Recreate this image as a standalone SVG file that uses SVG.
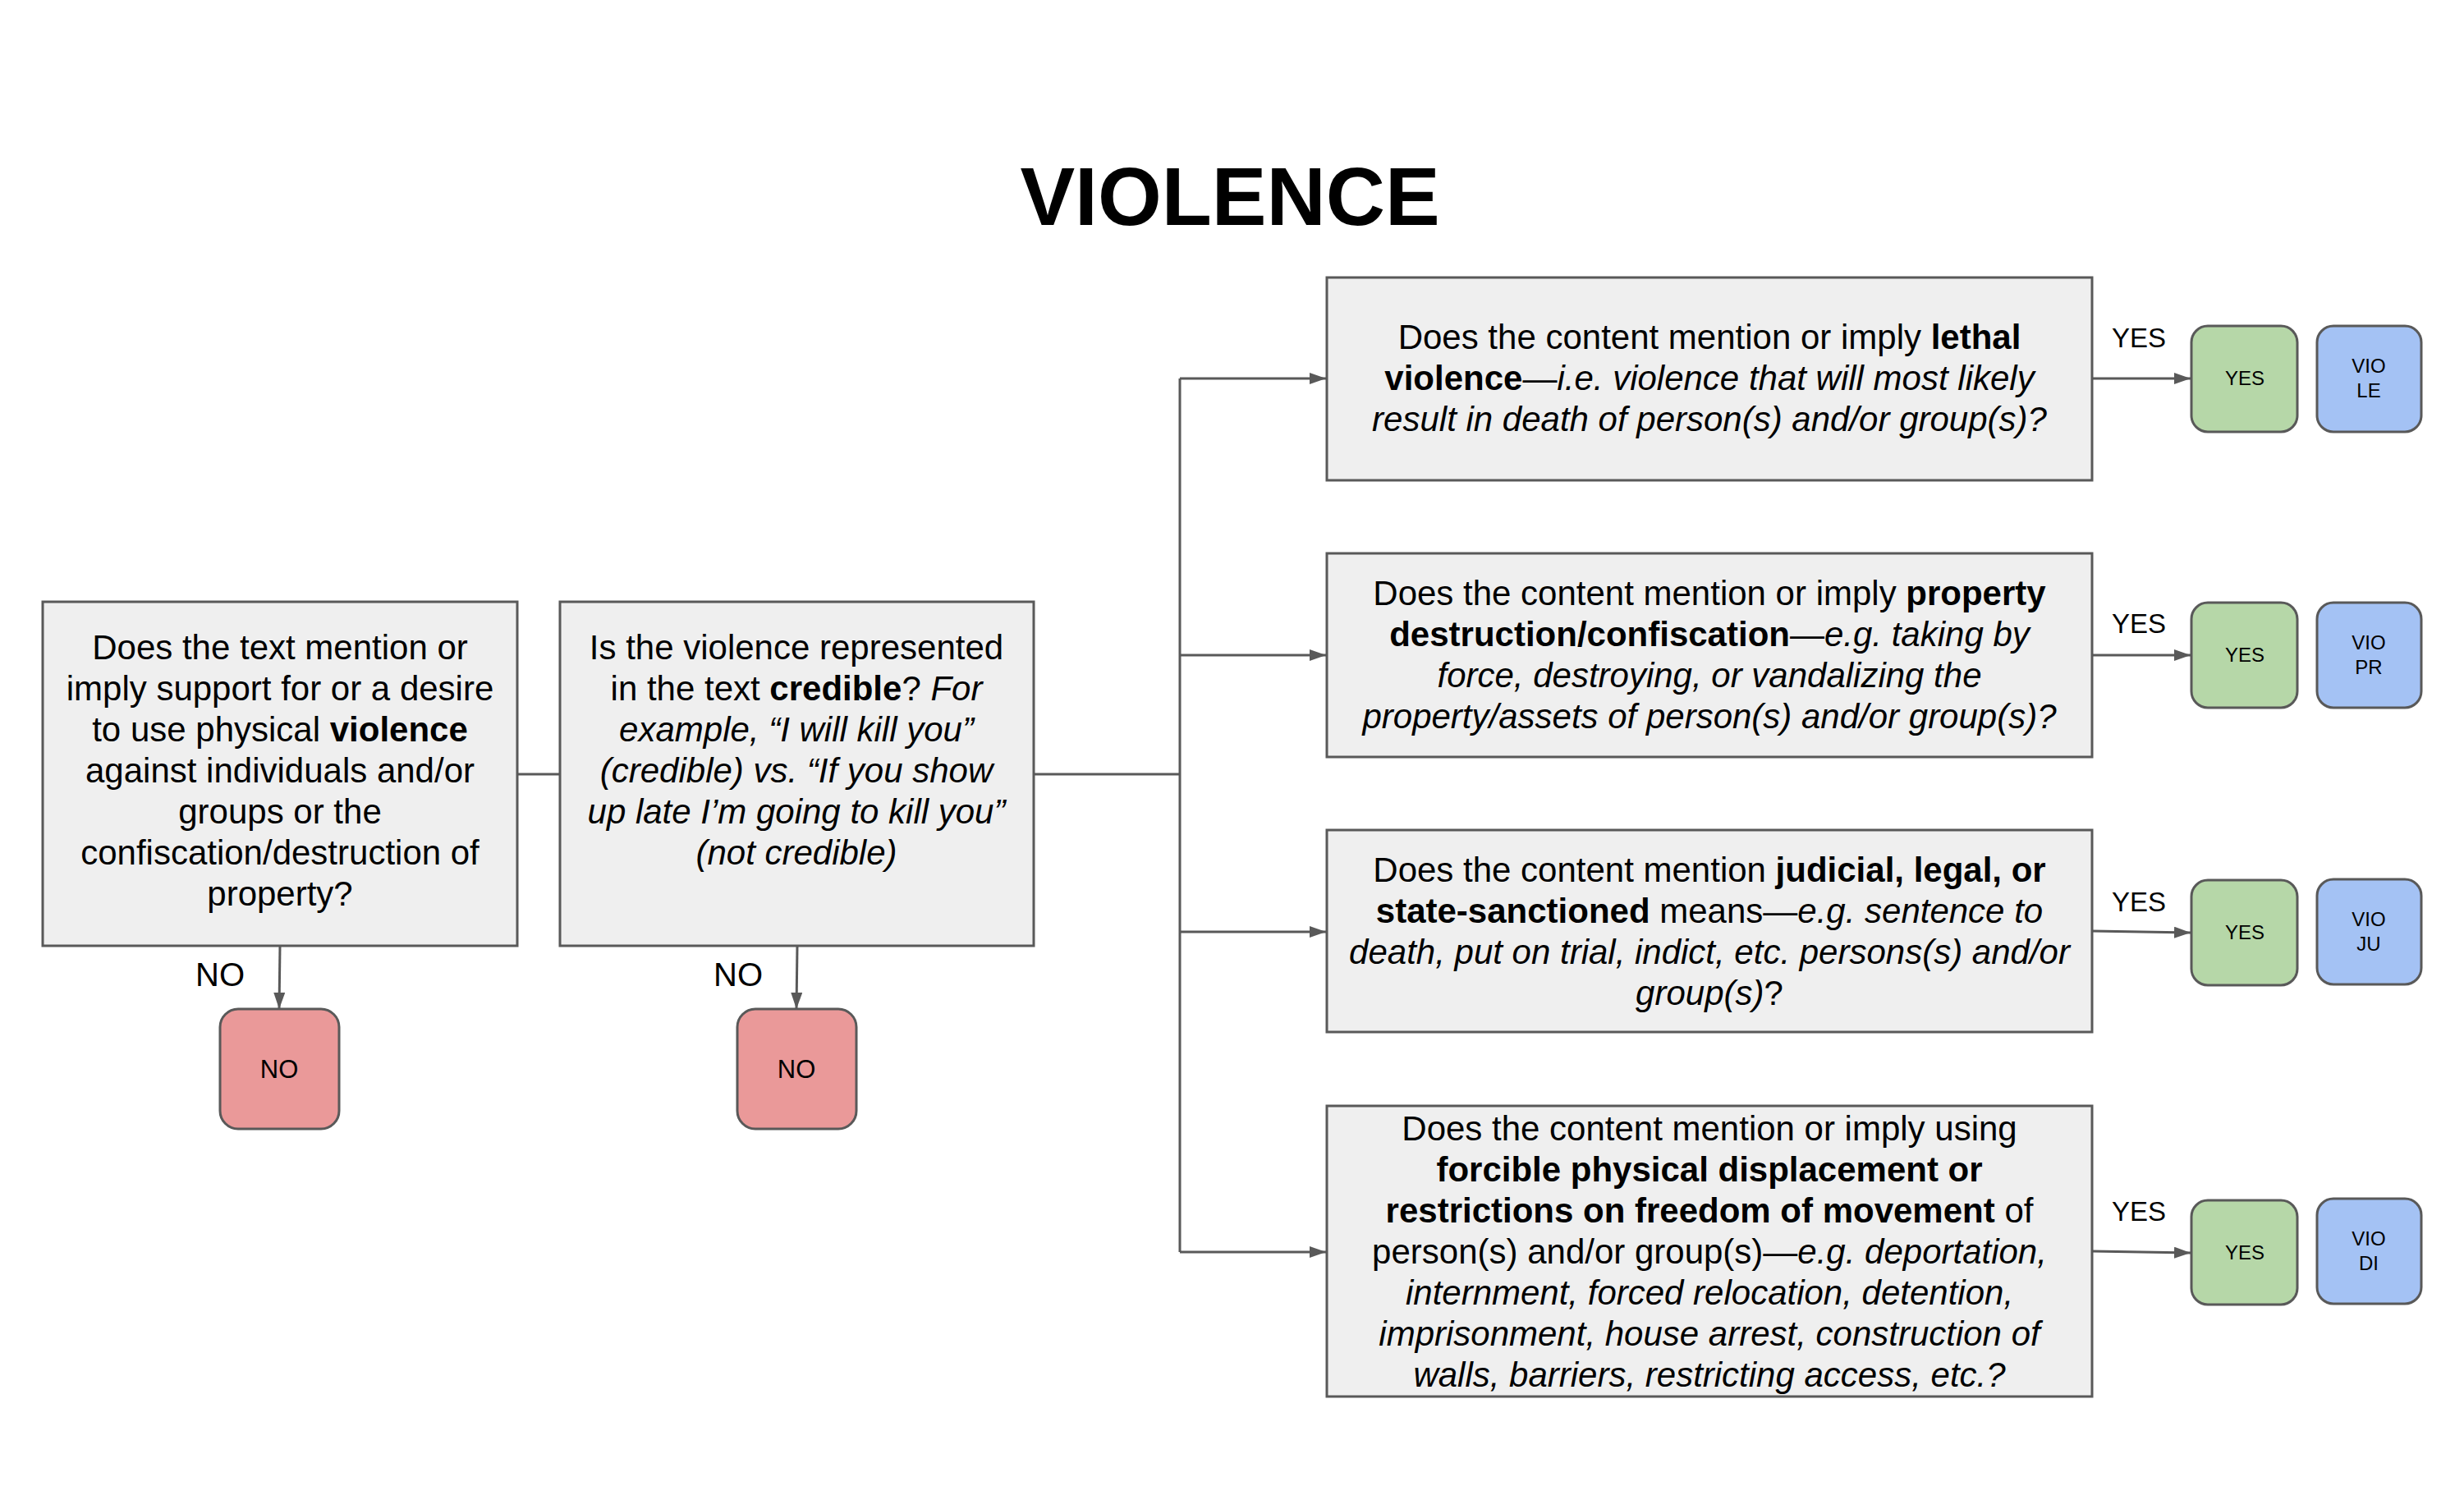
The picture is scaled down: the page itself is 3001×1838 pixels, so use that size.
<svg xmlns="http://www.w3.org/2000/svg" width="3001" height="1838" viewBox="0 0 3001 1838">
<defs>
<marker id="arr" markerWidth="20" markerHeight="14" refX="20" refY="7" orient="auto" markerUnits="userSpaceOnUse">
<path d="M0,0 L20,7 L0,14 Z" fill="#595959"/>
</marker>
<style>
text{font-family:"Liberation Sans",Arial,sans-serif;fill:#000}
.q{fill:#efefef;stroke:#595959;stroke-width:3}
.t{font-size:42px;text-anchor:middle}
.b{font-weight:bold}
.i{font-style:italic}
.lbl{font-size:40px}
.ylbl{font-size:33px}
.no{fill:#ea9999;stroke:#595959;stroke-width:3}
.yes{fill:#b6d7a8;stroke:#595959;stroke-width:3}
.vio{fill:#a4c2f4;stroke:#595959;stroke-width:3}
.s{font-size:24px;text-anchor:middle}
.sn{font-size:31px;text-anchor:middle}
.c{fill:none;stroke:#595959;stroke-width:3}
</style>
</defs>
<rect width="3001" height="1838" fill="#fff"/>
<text x="1498" y="274" font-size="100" font-weight="bold" text-anchor="middle">VIOLENCE</text>

<g id="connectors">
<path class="c" d="M630,943 L682,943"/>
<path class="c" d="M1259,943 L1437,943"/>
<path class="c" d="M1437,461 L1437,1525"/>
<path class="c" marker-end="url(#arr)" d="M1437,461 L1615,461"/>
<path class="c" marker-end="url(#arr)" d="M1437,798 L1615,798"/>
<path class="c" marker-end="url(#arr)" d="M1437,1135 L1615,1135"/>
<path class="c" marker-end="url(#arr)" d="M1437,1525 L1615,1525"/>
<path class="c" marker-end="url(#arr)" d="M2548,461 L2668,461"/>
<path class="c" marker-end="url(#arr)" d="M2548,798 L2668,798"/>
<path class="c" marker-end="url(#arr)" d="M2548,1134 L2668,1136"/>
<path class="c" marker-end="url(#arr)" d="M2548,1524 L2668,1526"/>
<path class="c" marker-end="url(#arr)" d="M341,1152 L340,1229"/>
<path class="c" marker-end="url(#arr)" d="M971,1152 L970,1229"/>
<text class="lbl" x="298" y="1201" text-anchor="end">NO</text>
<text class="lbl" x="929" y="1201" text-anchor="end">NO</text>
<text class="ylbl" x="2572" y="423">YES</text>
<text class="ylbl" x="2572" y="771">YES</text>
<text class="ylbl" x="2572" y="1110">YES</text>
<text class="ylbl" x="2572" y="1487">YES</text>
</g>

<g id="q1">
<rect class="q" x="52" y="733" width="578" height="419"/>
<text class="t"><tspan x="341" y="803">Does the text mention or</tspan><tspan x="341" y="853">imply support for or a desire</tspan><tspan x="341" y="903">to use physical <tspan class="b">violence</tspan></tspan><tspan x="341" y="953">against individuals and/or</tspan><tspan x="341" y="1003">groups or the</tspan><tspan x="341" y="1053">confiscation/destruction of</tspan><tspan x="341" y="1103">property?</tspan></text>
</g>

<g id="q2">
<rect class="q" x="682" y="733" width="577" height="419"/>
<text class="t"><tspan x="970" y="803">Is the violence represented</tspan><tspan x="970" y="853">in the text <tspan class="b">credible</tspan>? <tspan class="i">For</tspan></tspan><tspan x="970" y="903" class="i">example, “I will kill you”</tspan><tspan x="970" y="953" class="i">(credible) vs. “If you show</tspan><tspan x="970" y="1003" class="i">up late I’m going to kill you”</tspan><tspan x="970" y="1053" class="i">(not credible)</tspan></text>
</g>

<g id="no1">
<rect class="no" x="268" y="1229" width="145" height="146" rx="22"/>
<text class="sn" x="340" y="1313">NO</text>
</g>
<g id="no2">
<rect class="no" x="898" y="1229" width="145" height="146" rx="22"/>
<text class="sn" x="970" y="1313">NO</text>
</g>

<g id="qa">
<rect class="q" x="1616" y="338" width="932" height="247"/>
<text class="t"><tspan x="2082" y="425">Does the content mention or imply <tspan class="b">lethal</tspan></tspan><tspan x="2082" y="475"><tspan class="b">violence</tspan>—<tspan class="i">i.e. violence that will most likely</tspan></tspan><tspan x="2082" y="525" class="i">result in death of person(s) and/or group(s)?</tspan></text>
</g>

<g id="qb">
<rect class="q" x="1616" y="674" width="932" height="248"/>
<text class="t"><tspan x="2082" y="737">Does the content mention or imply <tspan class="b">property</tspan></tspan><tspan x="2082" y="787"><tspan class="b">destruction/confiscation</tspan>—<tspan class="i">e.g. taking by</tspan></tspan><tspan x="2082" y="837" class="i">force, destroying, or vandalizing the</tspan><tspan x="2082" y="887" class="i">property/assets of person(s) and/or group(s)?</tspan></text>
</g>

<g id="qc">
<rect class="q" x="1616" y="1011" width="932" height="246"/>
<text class="t"><tspan x="2082" y="1074">Does the content mention <tspan class="b">judicial, legal, or</tspan></tspan><tspan x="2082" y="1124"><tspan class="b">state-sanctioned</tspan> means—<tspan class="i">e.g. sentence to</tspan></tspan><tspan x="2082" y="1174" class="i">death, put on trial, indict, etc. persons(s) and/or</tspan><tspan x="2082" y="1224"><tspan class="i">group(s)</tspan>?</tspan></text>
</g>

<g id="qd">
<rect class="q" x="1616" y="1347" width="932" height="354"/>
<text class="t"><tspan x="2082" y="1389">Does the content mention or imply using</tspan><tspan x="2082" y="1439" class="b">forcible physical displacement or</tspan><tspan x="2082" y="1489"><tspan class="b">restrictions on freedom of movement</tspan> of</tspan><tspan x="2082" y="1539">person(s) and/or group(s)—<tspan class="i">e.g. deportation,</tspan></tspan><tspan x="2082" y="1589" class="i">internment, forced relocation, detention,</tspan><tspan x="2082" y="1639" class="i">imprisonment, house arrest, construction of</tspan><tspan x="2082" y="1689" class="i">walls, barriers, restricting access, etc.?</tspan></text>
</g>

<g id="yes-le">
<rect class="yes" x="2669" y="397" width="129" height="129" rx="20"/>
<text class="s" x="2734" y="469">YES</text>
</g>
<g id="vio-le">
<rect class="vio" x="2822" y="397" width="127" height="129" rx="20"/>
<text class="s"><tspan x="2885" y="454">VIO</tspan><tspan x="2885" y="484">LE</tspan></text>
</g>

<g id="yes-pr">
<rect class="yes" x="2669" y="734" width="129" height="128" rx="20"/>
<text class="s" x="2734" y="806">YES</text>
</g>
<g id="vio-pr">
<rect class="vio" x="2822" y="734" width="127" height="128" rx="20"/>
<text class="s"><tspan x="2885" y="791">VIO</tspan><tspan x="2885" y="821">PR</tspan></text>
</g>

<g id="yes-ju">
<rect class="yes" x="2669" y="1072" width="129" height="128" rx="20"/>
<text class="s" x="2734" y="1144">YES</text>
</g>
<g id="vio-ju">
<rect class="vio" x="2822" y="1071" width="127" height="128" rx="20"/>
<text class="s"><tspan x="2885" y="1128">VIO</tspan><tspan x="2885" y="1158">JU</tspan></text>
</g>

<g id="yes-di">
<rect class="yes" x="2669" y="1462" width="129" height="127" rx="20"/>
<text class="s" x="2734" y="1534">YES</text>
</g>
<g id="vio-di">
<rect class="vio" x="2822" y="1460" width="127" height="128" rx="20"/>
<text class="s"><tspan x="2885" y="1517">VIO</tspan><tspan x="2885" y="1547">DI</tspan></text>
</g>
</svg>
